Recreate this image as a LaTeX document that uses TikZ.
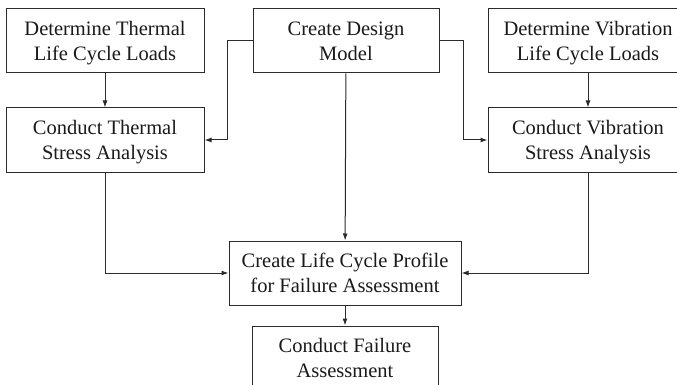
\documentclass[tikz,border=0pt]{standalone}
\usepackage{fontspec}
\setmainfont{Liberation Serif}
\usetikzlibrary{
  positioning,
  arrows.meta,
}
\definecolor{border}{HTML}{2B2B2B}
\definecolor{textCol}{HTML}{1A1A1A}
\definecolor{arrowCol}{HTML}{2B2B2B}
\tikzset{
  stepbox/.style={
    rectangle, draw=border, fill=white,
    minimum width=198pt, minimum height=64pt, align=center,
    font=\fontsize{20.5}{25}\selectfont, text=textCol,
    text depth=0pt, inner sep=2pt, line width=1pt,
  },
  arrow/.style={-{Latex[length=7pt,width=5pt]}, arrowCol, line width=1pt},
}
\begin{document}
\begin{tikzpicture}[x=1pt, y=-1pt]

  \useasboundingbox (0,0) rectangle (677,385);
  \clip (0,0) rectangle (677,385);

  % Steps
  \node[stepbox] (thermLoad) at (105, 41) {Determine Thermal\\Life Cycle Loads};
  \node[stepbox, minimum width=186pt] (design) at (346, 41) {Create Design\\Model};
  \node[stepbox, minimum width=200pt] (vibLoad) at (588, 41) {Determine Vibration\\Life Cycle Loads};
  \node[stepbox] (thermStress) at (105, 140) {Conduct Thermal\\Stress Analysis};
  \node[stepbox, minimum width=200pt] (vibStress) at (588, 140) {Conduct Vibration\\Stress Analysis};
  \node[stepbox, minimum width=232pt] (profile) at (345, 273) {Create Life Cycle Profile\\for Failure Assessment};
  \node[stepbox, minimum width=186pt] (failure) at (345, 358) {Conduct Failure\\Assessment};

  % Connectors
  \draw[arrow] (thermLoad) -- (thermStress);
  \draw[arrow] (vibLoad) -- (vibStress);
  \draw[arrow] (design.west) -- ++(-25,0) |- (thermStress.east);
  \draw[arrow] (design.east) -- ++(24,0) |- (vibStress.west);
  \draw[arrow] (design) -- (profile);
  \draw[arrow] (thermStress.south) |- (profile.west);
  \draw[arrow] (vibStress.south) |- (profile.east);
  \draw[arrow] (profile) -- (failure);

\end{tikzpicture}
\end{document}
